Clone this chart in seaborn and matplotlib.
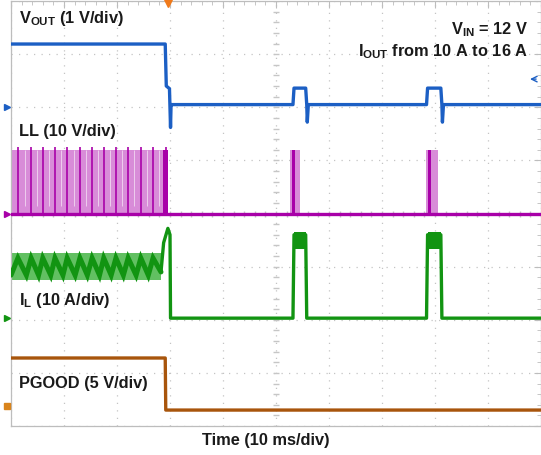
import numpy as np
import pandas as pd
import seaborn as sns
import matplotlib.pyplot as plt

# scope screen: time in ms (10 ms/div), level in divisions above the bottom graticule line
vout_t = [0, 29.1, 29.3, 29.9, 30.1, 30.2, 30.4, 53.2, 53.4, 55.6, 55.8, 55.9, 56.1, 78.4, 78.6, 81.1, 81.3, 81.4, 81.6, 100]
vout_v = [7.19, 7.19, 6.40, 6.35, 5.62, 6.05, 6.05, 6.05, 6.36, 6.36, 6.05, 5.72, 6.05, 6.05, 6.36, 6.36, 6.05, 5.72, 6.05, 6.05]

ll_base = 4.0
ll_top = 5.2
ll_switch_t = [1.3, 3.8, 6.0, 8.3, 10.6, 13.0, 15.3, 17.5, 19.8, 22.1, 24.5, 26.8, 29.2]
ll_gap_t = [2.6, 4.9, 7.2, 9.5, 11.8, 14.1, 16.4, 18.7, 21.0, 23.3, 25.6, 28.0]
ll_bursts = [(0.0, 29.6), (52.6, 54.5), (78.3, 80.6)]

il_ripple_t = [0, 1.3, 2.9, 3.8, 5.2, 6.0, 7.5, 8.3, 9.8, 10.6, 12.1, 13.0, 14.4, 15.3, 16.7,
               17.5, 18.9, 19.8, 21.2, 22.1, 23.6, 24.5, 25.9, 26.8, 28.3]
il_ripple_v = [2.84, 3.16, 2.84, 3.16, 2.84, 3.16, 2.84, 3.16, 2.84, 3.16, 2.84, 3.16, 2.84, 3.16, 2.84,
               3.16, 2.84, 3.16, 2.84, 3.16, 2.84, 3.16, 2.84, 3.16, 2.90]
il_band = (2.74, 3.25)
il_t = [28.3, 28.8, 29.6, 30.0, 30.1, 53.2, 53.4, 55.6, 55.8, 78.4, 78.6, 81.1, 81.3, 100]
il_v = [2.90, 3.45, 3.72, 3.60, 2.03, 2.03, 3.60, 3.60, 2.03, 2.03, 3.60, 3.60, 2.03, 2.03]
il_pulse_band = [(53.4, 55.6), (78.6, 81.1)]
il_pulse_lo, il_pulse_hi = 3.33, 3.66

pg_t = [0, 29.1, 29.2, 100]
pg_v = [1.28, 1.28, 0.30, 0.30]

colors = {'VOUT': '#1c5fc4', 'LL': '#a800a8', 'IL': '#129412', 'PGOOD': '#a8550c'}
light = {'LL': '#d88cd8', 'IL': '#62c062'}

traces = pd.concat([
    pd.DataFrame({'t': vout_t, 'level': vout_v, 'channel': 'VOUT'}),
    pd.DataFrame({'t': [0, 100], 'level': [ll_base, ll_base], 'channel': 'LL'}),
    pd.DataFrame({'t': il_t, 'level': il_v, 'channel': 'IL'}),
    pd.DataFrame({'t': pg_t, 'level': pg_v, 'channel': 'PGOOD'}),
], ignore_index=True)

sns.set_style('white')
plt.rcParams['font.family'] = ['Liberation Sans', 'DejaVu Sans']
plt.rcParams['mathtext.fontset'] = 'custom'
plt.rcParams['mathtext.bf'] = 'Liberation Sans:bold'
plt.rcParams['mathtext.rm'] = 'Liberation Sans:bold'

fig = plt.figure(figsize=(5.41, 4.55), dpi=100)
ax = fig.add_axes([11 / 541, 29 / 455, 530 / 541, 425 / 455])
ax.set_xlim(0, 100)
ax.set_ylim(0, 8)

# graticule
ax.set_xticks(np.arange(0, 101, 10))
ax.set_yticks(np.arange(0, 9, 1))
ax.set_xticks(np.arange(0, 101, 2), minor=True)
ax.set_yticks(np.arange(0, 8.01, 0.2), minor=True)
ax.grid(True, which='major', linestyle=(0, (1, 5)), color='#c4c4c4', lw=0.9)
ax.tick_params(which='both', direction='in', top=True, right=True, labelbottom=False, labelleft=False,
               color='#bdbdbd')
ax.tick_params(which='major', length=5)
ax.tick_params(which='minor', length=3)
for s in ax.spines.values():
    s.set_color('#bdbdbd')
    s.set_linewidth(0.9)
ax.plot(np.arange(0, 101, 2), np.full(51, 4.0), ls='none', marker='|', ms=5, color='#c6c6c6', zorder=1)
ax.plot(np.full(41, 50.0), np.arange(0, 8.01, 0.2), ls='none', marker='_', ms=5, color='#c6c6c6', zorder=1)

# LL switching bursts
for a, b in ll_bursts:
    ax.fill_between([a, b], ll_base, ll_top, color=light['LL'], lw=0, zorder=2)
ax.vlines(ll_gap_t, ll_base + 0.15, ll_top, color='white', lw=0.5, alpha=0.8, zorder=2)
ax.vlines(ll_switch_t, ll_base, ll_top + 0.05, color=colors['LL'], lw=1.2, zorder=3)
ax.fill_between([28.7, 29.6], ll_base, ll_top, color=colors['LL'], lw=0, zorder=3)
for a, b in ll_bursts[1:]:
    ax.fill_between([a + 0.4, a + 1.0], ll_base, ll_top, color=colors['LL'], lw=0, zorder=3)

# IL ripple band and pulse tops
ax.fill_between([0, 28.3], il_band[0], il_band[1], color=light['IL'], lw=0, zorder=2)
ax.plot(il_ripple_t, il_ripple_v, color=colors['IL'], lw=3.6, solid_joinstyle='miter', zorder=3)
for a, b in il_pulse_band:
    ax.fill_between([a, b], il_pulse_lo, il_pulse_hi, color=colors['IL'], lw=0, zorder=3)

sns.lineplot(data=traces, x='t', y='level', hue='channel', palette=colors, estimator=None, sort=False,
             linewidth=2.4, legend=False, ax=ax, zorder=4)
ax.set_xlabel('')
ax.set_ylabel('')

# channel ground markers, trigger marker and offset arrow
for ch, lv in [('VOUT', 6.01), ('LL', 4.0), ('IL', 2.03)]:
    ax.plot(-0.8, lv, marker='>', ms=4, color=colors[ch], clip_on=False, zorder=5)
ax.plot(-0.7, 0.38, marker='s', ms=5, color='#d9841c', clip_on=False, zorder=5)
ax.plot(29.6, 7.97, marker='v', ms=6, color='#f07a1a', clip_on=False, zorder=5)
ax.annotate('', xy=(97.4, 6.53), xytext=(99.6, 6.53),
            arrowprops=dict(arrowstyle='->', color=colors['VOUT'], lw=1.0))

kw = dict(fontsize=11.8, fontweight='bold', color='#1a1a1a', transform=ax.transData, zorder=6)
ax.text(1.6, 7.68, r'V$_{\mathbf{OUT}}$ (1 V/div)', va='center', ha='left', **kw)
ax.text(97.6, 7.47, r'V$_{\mathbf{IN}}$ = 12 V', va='center', ha='right', **kw)
ax.text(97.6, 7.05, r'I$_{\mathbf{OUT}}$ from 10 A to 16 A', va='center', ha='right', **kw)
ax.text(1.6, 5.55, 'LL (10 V/div)', va='center', ha='left', **kw)
ax.text(1.6, 2.36, r'I$_{\mathbf{L}}$ (10 A/div)', va='center', ha='left', **kw)
ax.text(1.6, 0.80, 'PGOOD (5 V/div)', va='center', ha='left', **kw)
fig.text(266 / 541, 1 - 441 / 455, 'Time (10 ms/div)', ha='center', va='center',
         fontsize=11.8, fontweight='bold', color='#1a1a1a')

fig.savefig('out.png', dpi=100)
